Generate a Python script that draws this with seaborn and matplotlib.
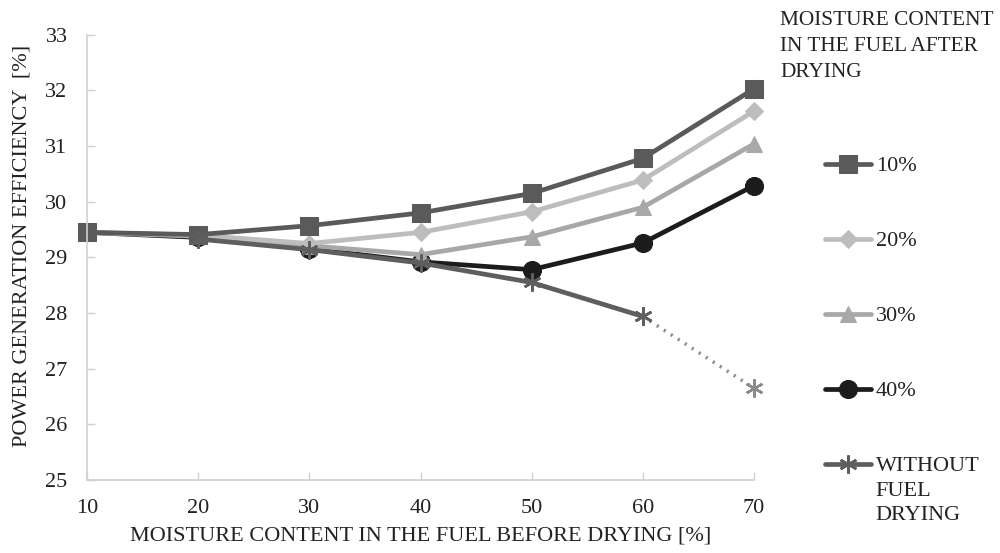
import matplotlib
matplotlib.use("Agg")
import matplotlib.pyplot as plt
import seaborn as sns
import pandas as pd

sns.set_theme(style="white")
plt.rcParams["font.family"] = ["Liberation Serif", "DejaVu Serif"]

moisture_before = [10, 20, 30, 40, 50, 60, 70]
eff_10 = [29.45, 29.41, 29.57, 29.80, 30.15, 30.78, 32.03]
eff_20 = [29.45, 29.40, 29.25, 29.45, 29.82, 30.39, 31.63]
eff_30 = [29.45, 29.38, 29.21, 29.05, 29.37, 29.90, 31.04]
eff_40 = [29.45, 29.36, 29.16, 28.92, 28.78, 29.26, 30.29]
moisture_none = [20, 30, 40, 50, 60, 70]
eff_none = [29.33, 29.14, 28.90, 28.55, 27.94, 26.65]

series = {
    "40%": (eff_40, "#1c1c1c", "o", 13),
    "30%": (eff_30, "#a8a8a8", "^", 12),
    "20%": (eff_20, "#bdbdbd", "D", 9),
    "10%": (eff_10, "#5a5a5a", "s", 13),
}
legend_order = ["10%", "20%", "30%", "40%", "WITHOUT"]
FS = 16

fig = plt.figure(figsize=(10, 5.53), dpi=100)
ax = fig.add_axes([0.087, 0.132, 0.667, 0.805])

for label, (vals, color, marker, ms) in series.items():
    df = pd.DataFrame({"x": moisture_before, "y": vals})
    sns.lineplot(data=df, x="x", y="y", ax=ax, color=color, lw=3.4,
                 marker=marker, markersize=ms, markeredgecolor=color,
                 clip_on=False, label=label)

star = (6, 2, 0)
df_none = pd.DataFrame({"x": moisture_none, "y": eff_none})
sns.lineplot(data=df_none.iloc[4:], x="x", y="y", ax=ax, color="#8a8a8a", lw=2.5,
             linestyle=(0, (0.6, 1.8)), marker=star, markersize=13,
             markeredgewidth=1.8, markeredgecolor="#8a8a8a", clip_on=False,
             legend=False)
sns.lineplot(data=df_none.iloc[:5], x="x", y="y", ax=ax, color="#5e5e5e", lw=3.4,
             marker=star, markersize=13, markeredgewidth=1.8,
             markeredgecolor="#5e5e5e", clip_on=False, label="WITHOUT")

ax.set_xlim(10, 70)
ax.set_ylim(25, 33)
ax.set_xticks(moisture_before)
ax.set_yticks(range(25, 34))
ax.tick_params(axis="both", labelsize=FS, colors="#222222", direction="in",
               length=6, width=1)
ax.tick_params(axis="y", color="#d0d0d0", left=True, pad=14)
ax.tick_params(axis="x", color="#d0d0d0", bottom=True, pad=14)
for side in ["top", "right"]:
    ax.spines[side].set_visible(False)
for side in ["left", "bottom"]:
    ax.spines[side].set_color("#d0d0d0")
    ax.spines[side].set_linewidth(1.2)

ax.set_xlabel("MOISTURE CONTENT IN THE FUEL BEFORE DRYING [%]",
              fontsize=FS, color="#222222", labelpad=6)
ax.set_ylabel("POWER GENERATION EFFICIENCY  [%]", fontsize=FS,
              color="#222222")
ax.yaxis.set_label_coords(-0.083, 0.525)

h, l = ax.get_legend_handles_labels()
hmap = dict(zip(l, h))
leg = ax.legend([hmap[k] for k in legend_order], legend_order,
                loc="upper left", bbox_to_anchor=(1.106, 0.728), frameon=False,
                fontsize=FS, handlelength=2.1, handletextpad=0.2,
                labelspacing=2.45, borderaxespad=0, borderpad=0)
for t in leg.get_texts():
    t.set_color("#222222")

fig.text(0.78, 0.98, "MOISTURE CONTENT\nIN THE FUEL AFTER\nDRYING", fontsize=15.3,
         va="top", ha="left", color="#222222", linespacing=1.5)

fig.canvas.draw()
bb = leg.get_texts()[-1].get_window_extent()
fig.text(bb.x0 / fig.bbox.width, (bb.y0 - 6) / fig.bbox.height, "FUEL\nDRYING",
         fontsize=FS, va="top", ha="left", color="#222222", linespacing=1.35)

fig.savefig("out.png", dpi=100)
